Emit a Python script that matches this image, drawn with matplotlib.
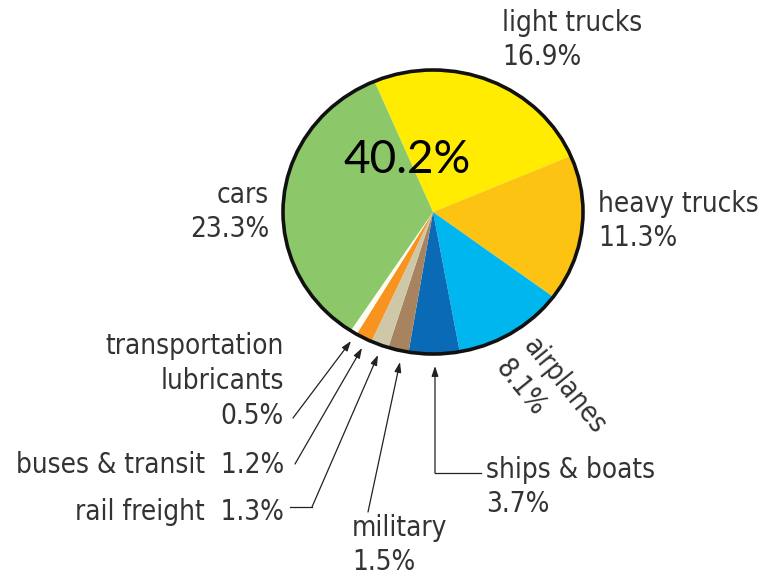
import matplotlib
matplotlib.use("Agg")
import matplotlib.pyplot as plt
from matplotlib import font_manager
from matplotlib.patches import Circle

# Transportation share of oil use, listed clockwise from the top of the pie
categories = ["light trucks", "heavy trucks", "airplanes", "ships & boats",
              "military", "rail freight", "buses & transit",
              "transportation\nlubricants", "cars"]
shares = [16.9, 11.3, 8.1, 3.7, 1.5, 1.3, 1.2, 0.5, 23.3]
total_label = "40.2%"

colors = ["#FFEC00", "#FDC312", "#00B6EE", "#0A6AB5", "#A8835F",
          "#CFC8A8", "#F7931E", "#FFFDF2", "#8CC86A"]

fonts = font_manager.fontManager.ttflist
available = {f.name for f in fonts}
has_condensed = any(f.name == "DejaVu Sans" and "ondensed" in f.fname for f in fonts)
label_font = "Liberation Sans Narrow" if "Liberation Sans Narrow" in available else "DejaVu Sans"
label_stretch = "condensed" if has_condensed else "normal"
big_font = "Lato" if "Lato" in available else "DejaVu Sans"

W, H = 767, 577
fig = plt.figure(figsize=(W / 100, H / 100), dpi=100)
fig.patch.set_facecolor("white")

# Pie axes placed in pixel terms (slightly oval, as printed)
left, right, top, bottom = 283, 583, 70, 354
pax = fig.add_axes([left / W, 1 - bottom / H, (right - left) / W, (bottom - top) / H])
wedges, _ = pax.pie(shares, colors=colors, startangle=113, counterclock=False,
                    radius=1.0, wedgeprops=dict(linewidth=0))
pax.set_aspect("auto")
pax.set_xlim(-1, 1)
pax.set_ylim(-1, 1)
pax.add_patch(Circle((0, 0), 1.0, fill=False, edgecolor="#111111",
                     linewidth=2.6, clip_on=False, zorder=5))
pax.axis("off")

# Overlay axes in pixel coordinates for labels and leader arrows
ax = fig.add_axes([0, 0, 1, 1], facecolor="none")
ax.set_xlim(0, W)
ax.set_ylim(H, 0)
ax.axis("off")

tc = "#333333"
fs = 20
ls = 1.3

def lab(x, y, s, ha="left", rot=0, va="center"):
    ax.text(x, y, s, ha=ha, va=va, fontsize=fs, color=tc, family=label_font,
            fontstretch=label_stretch, linespacing=ls, rotation=rot,
            rotation_mode="anchor")

lab(502, 40, f"{categories[0]}\n{shares[0]:.1f}%")
lab(598, 221, f"{categories[1]}\n{shares[1]:.1f}%")
lab(269, 212, f"{categories[8]}\n{shares[8]:.1f}%", ha="right")
lab(528, 341, categories[2], rot=-51)
lab(500, 363, f"{shares[2]:.1f}%", rot=-51)
lab(284, 381, f"{categories[7]}\n{shares[7]:.1f}%", ha="right")
lab(284, 465, f"{categories[6]}  {shares[6]:.1f}%", ha="right")
lab(284, 512, f"{categories[5]}  {shares[5]:.1f}%", ha="right")
lab(352, 545, f"{categories[4]}\n{shares[4]:.1f}%")
lab(486, 487, f"{categories[3]}\n{shares[3]:.1f}%")

ax.text(407, 160, total_label, ha="center", va="center", fontsize=33,
        color="black", family=big_font)

arrow = dict(arrowstyle="-|>,head_length=0.6,head_width=0.2", color="#222222",
             lw=0.9, shrinkA=0, shrinkB=0)

def leader(path):
    xs, ys = zip(*path)
    if len(path) > 2:
        ax.plot(xs[:-1], ys[:-1], color="#222222", lw=0.9)
    ax.annotate("", xy=path[-1], xytext=path[-2], arrowprops=arrow)

leader([(293, 418), (351, 341)])
leader([(295, 464), (362, 348)])
leader([(290, 507), (312, 507), (378, 355)])
leader([(368, 512), (400, 362)])
leader([(481, 473), (435, 473), (435, 366)])

fig.savefig("out.png", dpi=100, facecolor="white")
